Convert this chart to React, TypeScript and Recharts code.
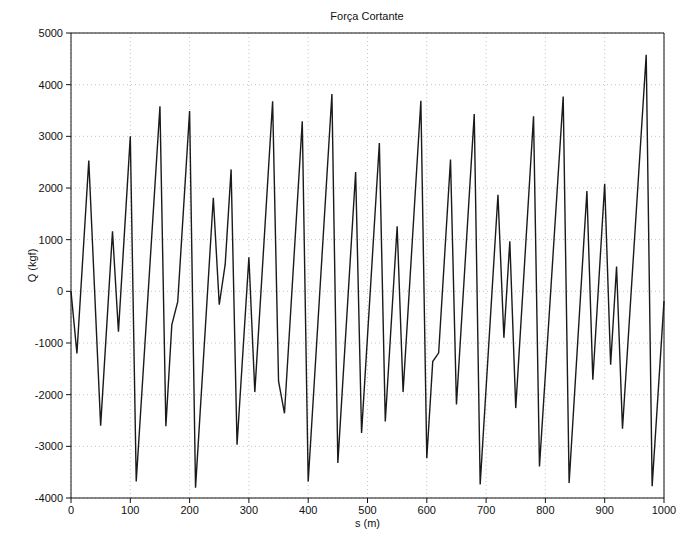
import React from "react";
import { LineChart, Line, XAxis, YAxis, CartesianGrid, ReferenceLine } from "recharts";

const TITLE = "Força Cortante";
const X_LABEL = "s (m)";
const Y_LABEL = "Q (kgf)";

const distances = [
  0, 10, 30, 50, 70, 80, 100, 110, 150, 160, 170, 180, 200, 210, 240, 250, 260, 270, 280,
  300, 310, 340, 350, 360, 390, 400, 440, 450, 480, 490, 520, 530, 550, 560, 590, 600,
  610, 620, 640, 650, 680, 690, 720, 730, 740, 750, 780, 790, 830, 840, 870, 880, 900,
  910, 920, 930, 970, 980, 1000,
];
const shear = [
  0, -1200, 2530, -2600, 1160, -780, 3000, -3680, 3580, -2610, -650, -200, 3490, -3800,
  1810, -260, 520, 2360, -2970, 660, -1950, 3680, -1740, -2360, 3290, -3680, 3820, -3320,
  2310, -2740, 2870, -2520, 1260, -1950, 3690, -3230, -1360, -1190, 2550, -2190, 3430,
  -3740, 1870, -900, 970, -2260, 3390, -3390, 3770, -3710, 1940, -1710, 2080, -1420, 480,
  -2660, 4580, -3770, -190,
];
const xTicks = [0, 100, 200, 300, 400, 500, 600, 700, 800, 900, 1000];
const yTicks = [-4000, -3000, -2000, -1000, 0, 1000, 2000, 3000, 4000, 5000];

const data = distances.map((s, i) => ({ s, q: shear[i] }));

const FONT = "'Liberation Sans', Arial, Helvetica, sans-serif";
const tickStyle = { fontSize: 11, fill: "#111", fontFamily: FONT };

export default function App() {
  return (
    <div style={{ position: "absolute", left: 0, top: 0, width: 680, height: 537, background: "#fff" }}>
      <LineChart
        width={680}
        height={537}
        data={data}
        margin={{ top: 33, right: 16, left: 0, bottom: 0 }}
      >
        <CartesianGrid stroke="#c4c4c4" strokeDasharray="1 3" />
        <XAxis
          dataKey="s"
          type="number"
          domain={[0, 1000]}
          ticks={xTicks}
          height={39}
          tick={tickStyle}
          tickSize={5}
          tickMargin={3}
          stroke="#111"
          label={{ value: X_LABEL, position: "insideBottom", offset: 10, style: { fontSize: 11, fill: "#111", fontFamily: FONT } }}
        />
        <YAxis
          type="number"
          domain={[-4000, 5000]}
          ticks={yTicks}
          width={71}
          tick={tickStyle}
          tickSize={5}
          tickMargin={3}
          stroke="#111"
          label={{ value: Y_LABEL, angle: -90, position: "insideLeft", offset: 32, style: { fontSize: 11, fill: "#111", fontFamily: FONT, textAnchor: "middle" } }}
        />
        <ReferenceLine y={5000} stroke="#111" strokeWidth={1} />
        <ReferenceLine x={1000} stroke="#111" strokeWidth={1} />
        <Line
          type="linear"
          dataKey="q"
          stroke="#1a1a1a"
          strokeWidth={1.4}
          dot={false}
          isAnimationActive={false}
        />
        <text x={367} y={20} textAnchor="middle" style={{ fontSize: 11, fill: "#111", fontFamily: FONT }}>
          {TITLE}
        </text>
      </LineChart>
    </div>
  );
}
